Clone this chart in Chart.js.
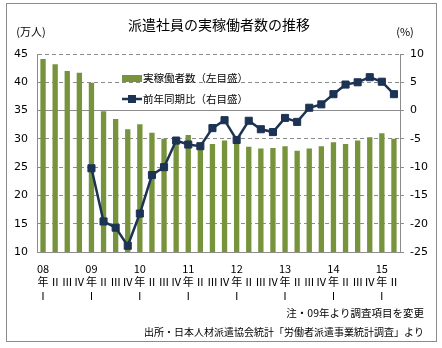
<!DOCTYPE html>
<html>
<head>
<meta charset="utf-8">
<script src="https://cdn.jsdelivr.net/npm/chart.js@4"></script>
<style>
    html, body { margin: 0; padding: 0; background: #fff; }
    #wrap { width: 442px; height: 348px; }
</style>
</head>
<body>
<div id="wrap"><canvas id="dispatchChart" width="442" height="348"></canvas></div>
<script>
const years = ["08", "09", "10", "11", "12", "13", "14", "15"];
const quarters = ["Ⅰ", "Ⅱ", "Ⅲ", "Ⅳ"];

// 実稼働者数 (万人), 08年Ⅰ〜15年Ⅱ
const workers = [
    44.1, 43.2, 42.0, 41.7,
    39.9, 34.9, 33.5, 31.7,
    32.6, 31.1, 30.0, 29.2,
    30.7, 28.5, 29.1, 29.7,
    29.1, 28.6, 28.3, 28.4,
    28.7, 27.9, 28.3, 28.7,
    29.4, 29.1, 29.7, 30.3,
    31.0, 30.0
];

// 前年同期比 (%)
const yoy = [
    null, null, null, null,
    -10.2, -19.6, -20.7, -23.9,
    -18.2, -11.4, -10.0, -5.3,
    -6.0, -6.3, -3.1, -1.7,
    -5.2, -1.8, -3.3, -3.8,
    -1.3, -2.0, 0.5, 1.1,
    2.9, 4.6, 5.0, 5.9,
    5.1, 2.9
];

const leftTicks = [10, 15, 20, 25, 30, 35, 40, 45];
const rightTicks = [-25, -20, -15, -10, -5, 0, 5, 10];

const titleText = "派遣社員の実稼働者数の推移";
const leftUnit = "(万人)";
const rightUnit = "(%)";
const noteText = "注・09年より調査項目を変更";
const sourceText = "出所・日本人材派遣協会統計「労働者派遣事業統計調査」より";

const barColor = "#77933c";
const lineColor = "#1c3353";
const gridColor = "#8c8c8c";
const jpFont = "'Noto Sans CJK JP', 'DejaVu Sans', sans-serif";
const numFont = "'DejaVu Sans', 'Noto Sans CJK JP', sans-serif";

// multi-line category labels: year / 年 or quarter / Ⅰ
const labels = [];
for (let i = 0; i < workers.length; i++) {
    const y = Math.floor(i / 4);
    const q = i % 4;
    if (q === 0) {
        labels.push([years[y], "年", quarters[0]]);
    } else {
        labels.push(["", quarters[q], ""]);
    }
}

const decorPlugin = {
    id: "decor",
    beforeDraw(chart) {
        const ctx = chart.ctx;
        ctx.save();
        ctx.fillStyle = "#fff";
        ctx.fillRect(0, 0, chart.width, chart.height);
        ctx.strokeStyle = "#8c8c8c";
        ctx.lineWidth = 1;
        ctx.strokeRect(6.5, 3.5, 430, 338);
        ctx.restore();
    },
    afterDraw(chart) {
        const ctx = chart.ctx;
        ctx.save();
        ctx.fillStyle = "#000";
        ctx.textBaseline = "middle";

        ctx.font = "14px " + jpFont;
        ctx.textAlign = "center";
        ctx.fillText(titleText, 219, 25);

        ctx.font = "11px " + jpFont;
        ctx.fillText(leftUnit, 31, 32);
        ctx.fillText(rightUnit, 405, 32);

        ctx.textAlign = "right";
        ctx.font = "10.5px " + jpFont;
        ctx.fillText(noteText, 424, 313);
        ctx.font = "10px " + jpFont;
        ctx.fillText(sourceText, 424, 332);

        // legend inside the plot
        const ds = chart.data.datasets;
        ctx.font = "10.5px " + jpFont;
        ctx.textAlign = "left";
        ctx.fillStyle = ds[0].backgroundColor;
        ctx.fillRect(122, 75, 20, 7);
        ctx.fillStyle = "#000";
        ctx.fillText(ds[0].label, 143, 78.5);

        ctx.strokeStyle = ds[1].borderColor;
        ctx.lineWidth = 2.5;
        ctx.beginPath();
        ctx.moveTo(122, 99);
        ctx.lineTo(142, 99);
        ctx.stroke();
        ctx.fillStyle = ds[1].borderColor;
        ctx.fillRect(128, 95, 8, 8);
        ctx.fillStyle = "#000";
        ctx.fillText(ds[1].label, 143, 99.5);
        ctx.restore();
    }
};

new Chart(document.getElementById("dispatchChart"), {
    data: {
        labels: labels,
        datasets: [
            {
                type: "bar",
                label: "実稼働者数（左目盛）",
                data: workers,
                backgroundColor: barColor,
                borderWidth: 0,
                yAxisID: "y",
                categoryPercentage: 1,
                barPercentage: 0.44,
                order: 2,
            },
            {
                type: "line",
                label: "前年同期比（右目盛）",
                data: yoy,
                borderColor: lineColor,
                backgroundColor: lineColor,
                borderWidth: 2.5,
                pointStyle: "rect",
                pointRadius: 5,
                pointBorderWidth: 1,
                pointBackgroundColor: lineColor,
                tension: 0,
                spanGaps: false,
                yAxisID: "y1",
                order: 1,
            },
        ],
    },
    options: {
        responsive: false,
        animation: false,
        layout: { padding: { top: 54, left: 0, right: 0, bottom: 0 } },
        plugins: {
            legend: { display: false },
            title: { display: false },
            tooltip: { enabled: false },
        },
        scales: {
            x: {
                type: "category",
                offset: true,
                grid: { display: false },
                border: { display: true, color: gridColor, width: 1 },
                ticks: {
                    autoSkip: false,
                    maxRotation: 0,
                    padding: 2,
                    color: "#000",
                    font: { family: jpFont, size: 11, lineHeight: 1.22 },
                },
                afterFit(scale) {
                    scale.height = 96;
                },
            },
            y: {
                position: "left",
                min: 10,
                max: 45,
                afterBuildTicks(scale) {
                    scale.ticks = leftTicks.map((v) => ({ value: v }));
                },
                grid: {
                    color: gridColor,
                    lineWidth: 1,
                    drawTicks: false,
                },
                border: {
                    display: true,
                    color: gridColor,
                    width: 1,
                    dash: (ctx) => {
                        if (!ctx.tick || ctx.tick.value === 35 || ctx.tick.value === 10) {
                            return [];
                        }
                        return [4, 3];
                    },
                },
                ticks: {
                    padding: 9,
                    color: "#000",
                    font: { family: numFont, size: 11 },
                },
                afterFit(scale) {
                    scale.width = 37;
                },
            },
            y1: {
                position: "right",
                min: -25,
                max: 10,
                afterBuildTicks(scale) {
                    scale.ticks = rightTicks.map((v) => ({ value: v }));
                },
                grid: {
                    drawOnChartArea: false,
                    drawTicks: true,
                    tickLength: 4,
                    tickColor: gridColor,
                },
                border: { display: true, color: gridColor, width: 1 },
                ticks: {
                    padding: 6,
                    color: "#000",
                    font: { family: numFont, size: 11 },
                },
                afterFit(scale) {
                    scale.width = 42;
                },
            },
        },
    },
    plugins: [decorPlugin],
});
</script>
</body>
</html>
